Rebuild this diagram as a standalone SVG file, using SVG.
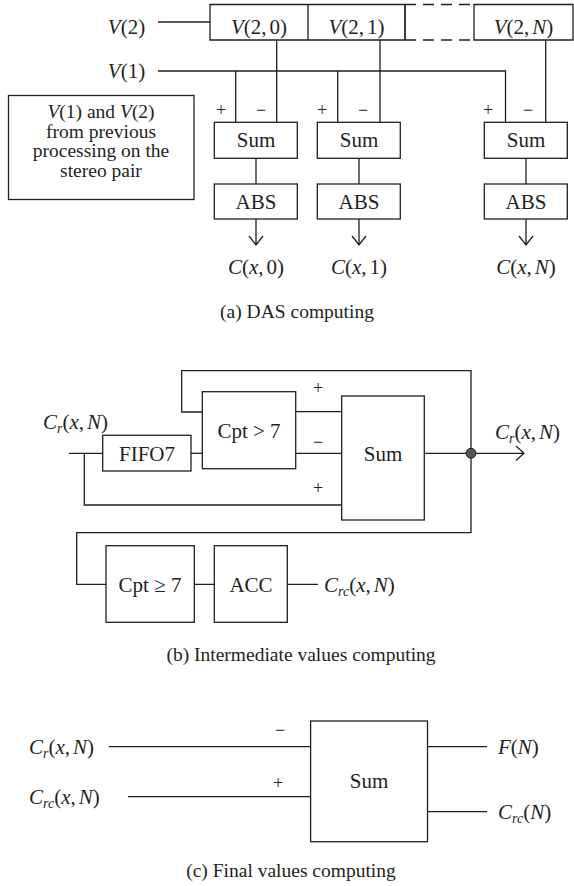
<svg xmlns="http://www.w3.org/2000/svg" width="574" height="886" viewBox="0 0 574 886">
<defs>
<style>
text{font-family:"Liberation Serif","Times New Roman",serif;font-size:21px;fill:#231f20}
.m{text-anchor:middle}
.i{font-style:italic}
.s{font-size:14px;font-style:italic}
.ps{font-size:18px}
.cap{font-size:19.5px}
.note{font-size:19.5px}
.box{fill:none;stroke:#231f20;stroke-width:1.3}
.ln{fill:none;stroke:#231f20;stroke-width:1.3}
.dash{fill:none;stroke:#231f20;stroke-width:1.3;stroke-dasharray:11 7}
</style>
</defs>
<rect width="574" height="886" fill="#fff"/>

<g id="connectors">
<path class="ln" d="M158 22 H210"/>
<path class="ln" d="M158 71 H505.5 V122"/>
<path class="ln" d="M235.7 71 V122 M337.7 71 V122"/>
<path class="ln" d="M276.7 40 V122 M380 40 V122 M545.7 40 V122"/>
<path class="ln" d="M256 158 V184 M359 158 V184 M526 158 V184"/>
<path class="ln" d="M256 219 V245 M249 236 L256 245 L263 236"/>
<path class="ln" d="M359 219 V245 M352 236 L359 245 L366 236"/>
<path class="ln" d="M526 219 V245 M519 236 L526 245 L533 236"/>
<path class="ln" d="M69 453.3 H102.7 M84.3 453.3 V505 H341.7"/>
<path class="ln" d="M191 453.3 H202.3"/>
<path class="ln" d="M202.3 412 H181.7 V370.7 H471 V532.7 H76.7 V584.3 H106"/>
<path class="ln" d="M295.7 411.7 H341.7 M295.7 453.3 H341.7"/>
<path class="ln" d="M424.3 453.3 H524 M516 446 L524 453.3 L516 460.6"/>
<path class="ln" d="M194.3 584.3 H214.3 M287.3 584.3 H318"/>
<circle cx="471" cy="453.3" r="5" fill="#555" stroke="#231f20" stroke-width="1"/>
<path class="ln" d="M108.8 746.7 H310.6 M128 796.7 H310.6"/>
<path class="ln" d="M427.5 746.7 H487 M427.5 811.7 H487"/>
</g>

<g id="label-V2"><text class="m" x="126.5" y="34"><tspan class="i">V</tspan>(2)</text></g>
<g id="label-V1"><text class="m" x="126.5" y="78"><tspan class="i">V</tspan>(1)</text></g>

<g id="register">
<path class="box" d="M308 4.5 H210 V40 H308 Z M308 4.5 H405 V40 H308"/>
<path class="box" d="M405 4.5 V40"/>
<path class="dash" d="M405 4.5 H474 M405 40 H474"/>
<path class="box" d="M474 4.5 H573 V40 H474 Z"/>
</g>
<g id="node-V20"><text class="m" x="259" y="34"><tspan class="i">V</tspan>(2,<tspan dx="3">0)</tspan></text></g>
<g id="node-V21"><text class="m" x="356.5" y="34"><tspan class="i">V</tspan>(2,<tspan dx="3">1)</tspan></text></g>
<g id="node-V2N"><text class="m" x="523.5" y="34"><tspan class="i">V</tspan>(2,<tspan class="i" dx="3">N</tspan>)</text></g>

<g id="note">
<rect class="box" x="8.5" y="95.5" width="185.5" height="104"/>
<text class="m note" x="101" y="118"><tspan class="i">V</tspan>(1) and <tspan class="i">V</tspan>(2)</text>
<text class="m note" x="101" y="137.5">from previous</text>
<text class="m note" x="101" y="157">processing on the</text>
<text class="m note" x="101" y="176.5">stereo pair</text>
</g>

<g id="signs-a">
<text class="m ps" x="221" y="116">+</text><text class="m ps" x="261" y="116">−</text>
<text class="m ps" x="322" y="116">+</text><text class="m ps" x="363" y="116">−</text>
<text class="m ps" x="488" y="116">+</text><text class="m ps" x="528" y="116">−</text>
</g>

<g id="sum0"><rect class="box" x="214.3" y="122.3" width="83" height="36"/><text class="m" x="256" y="147">Sum</text></g>
<g id="sum1"><rect class="box" x="317.3" y="122.3" width="83" height="36"/><text class="m" x="359" y="147">Sum</text></g>
<g id="sumN"><rect class="box" x="484.3" y="122.3" width="83" height="36"/><text class="m" x="526" y="147">Sum</text></g>
<g id="abs0"><rect class="box" x="214.3" y="184" width="83" height="35"/><text class="m" x="256" y="209">ABS</text></g>
<g id="abs1"><rect class="box" x="317.3" y="184" width="83" height="35"/><text class="m" x="359" y="209">ABS</text></g>
<g id="absN"><rect class="box" x="484.3" y="184" width="83" height="35"/><text class="m" x="526" y="209">ABS</text></g>
<g id="out-C0"><text class="m" x="256" y="274"><tspan class="i">C</tspan>(<tspan class="i">x</tspan>,<tspan dx="3">0)</tspan></text></g>
<g id="out-C1"><text class="m" x="359" y="274"><tspan class="i">C</tspan>(<tspan class="i">x</tspan>,<tspan dx="3">1)</tspan></text></g>
<g id="out-CN"><text class="m" x="526" y="274"><tspan class="i">C</tspan>(<tspan class="i">x</tspan>,<tspan class="i" dx="3">N</tspan>)</text></g>
<g id="caption-a"><text class="m cap" x="297" y="318">(a) DAS computing</text></g>

<g id="in-Cr"><text x="43" y="429"><tspan class="i">C</tspan><tspan class="s" dy="4">r</tspan><tspan dy="-4">(</tspan><tspan class="i">x</tspan>,<tspan class="i" dx="3">N</tspan>)</text></g>
<g id="fifo7"><rect class="box" x="102.7" y="435.3" width="88.3" height="35.7"/><text class="m" x="147" y="461">FIFO7</text></g>
<g id="cpt-gt7"><rect class="box" x="202.3" y="391.7" width="93.4" height="77"/><text class="m" x="249" y="438">Cpt &gt; 7</text></g>
<g id="signs-b">
<text class="m ps" x="318" y="394">+</text><text class="m ps" x="318" y="448">−</text><text class="m ps" x="318" y="494">+</text>
</g>
<g id="sum-b"><rect class="box" x="341.7" y="396" width="82.6" height="124"/><text class="m" x="383" y="461">Sum</text></g>
<g id="out-Cr"><text x="495" y="439"><tspan class="i">C</tspan><tspan class="s" dy="4">r</tspan><tspan dy="-4">(</tspan><tspan class="i">x</tspan>,<tspan class="i" dx="3">N</tspan>)</text></g>
<g id="cpt-ge7"><rect class="box" x="106" y="545.7" width="88.3" height="76.6"/><text class="m" x="150" y="592">Cpt ≥ 7</text></g>
<g id="acc"><rect class="box" x="214.3" y="545.7" width="73" height="76.6"/><text class="m" x="251" y="592">ACC</text></g>
<g id="out-Crc"><text x="324" y="592"><tspan class="i">C</tspan><tspan class="s" dy="4">rc</tspan><tspan dy="-4">(</tspan><tspan class="i">x</tspan>,<tspan class="i" dx="3">N</tspan>)</text></g>
<g id="caption-b"><text class="m cap" x="301" y="661">(b) Intermediate values computing</text></g>

<g id="in-Cr-c"><text x="29" y="754"><tspan class="i">C</tspan><tspan class="s" dy="4">r</tspan><tspan dy="-4">(</tspan><tspan class="i">x</tspan>,<tspan class="i" dx="3">N</tspan>)</text></g>
<g id="in-Crc-c"><text x="29" y="804"><tspan class="i">C</tspan><tspan class="s" dy="4">rc</tspan><tspan dy="-4">(</tspan><tspan class="i">x</tspan>,<tspan class="i" dx="3">N</tspan>)</text></g>
<g id="signs-c"><text class="m ps" x="280" y="736">−</text><text class="m ps" x="278" y="789">+</text></g>
<g id="sum-c"><rect class="box" x="310.6" y="721" width="116.9" height="120.7"/><text class="m" x="369" y="788">Sum</text></g>
<g id="out-F"><text x="498" y="754"><tspan class="i">F</tspan>(<tspan class="i">N</tspan>)</text></g>
<g id="out-CrcN"><text x="498" y="819"><tspan class="i">C</tspan><tspan class="s" dy="4">rc</tspan><tspan dy="-4">(</tspan><tspan class="i">N</tspan>)</text></g>
<g id="caption-c"><text class="m cap" x="291" y="877">(c) Final values computing</text></g>
</svg>
